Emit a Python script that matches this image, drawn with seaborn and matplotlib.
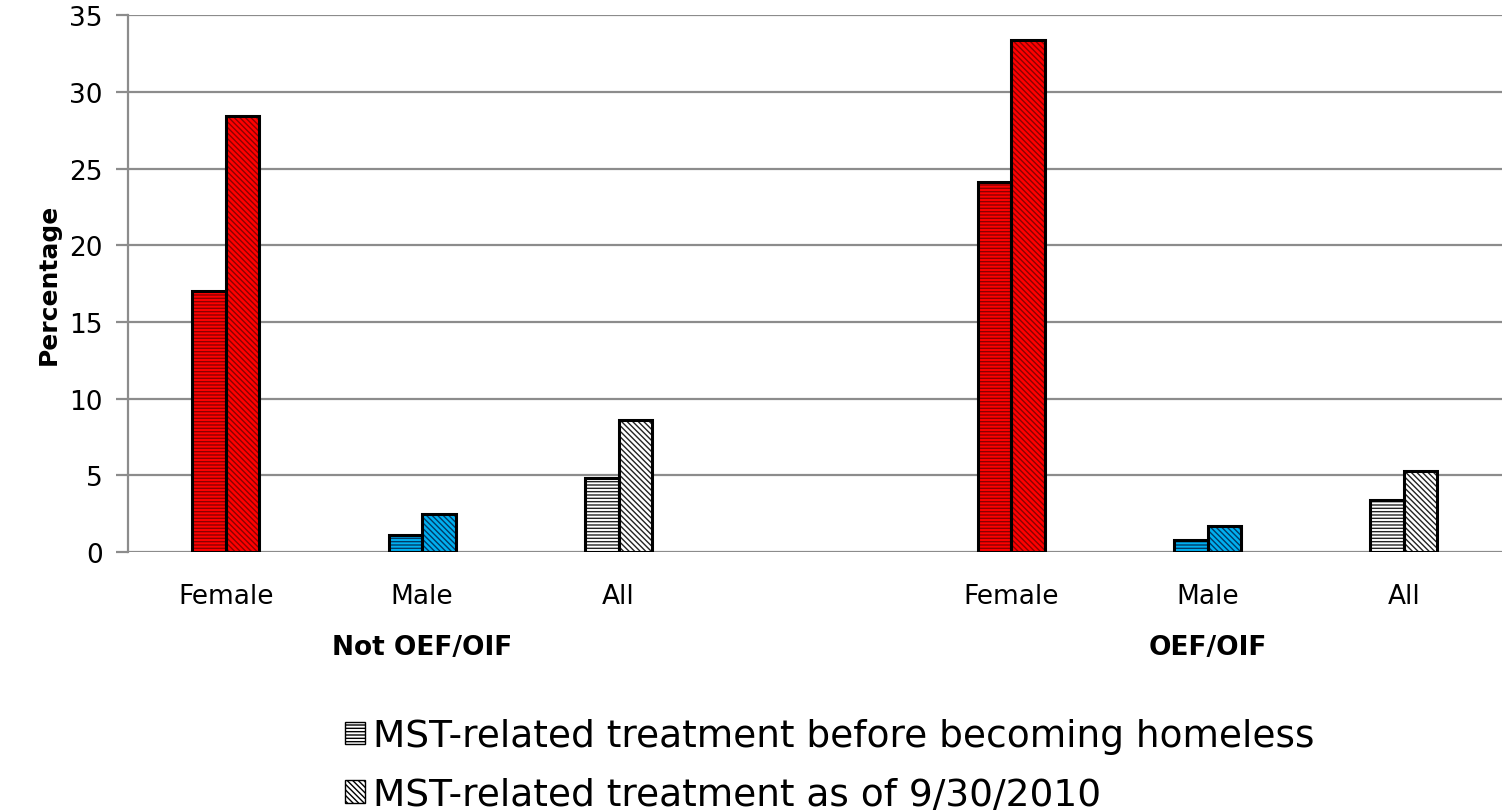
import matplotlib
matplotlib.use("Agg")
import matplotlib.pyplot as plt
import matplotlib.patches as mpatches
import seaborn as sns
import pandas as pd

# ---- data ----
slot_keys = ["NF_Female", "NF_Male", "NF_All", "gap", "OE_Female", "OE_Male", "OE_All"]
tick_labels = ["Female", "Male", "All", "", "Female", "Male", "All"]
group_labels = ["Not OEF/OIF", "OEF/OIF"]
series_names = ["MST-related treatment before becoming homeless",
                "MST-related treatment as of 9/30/2010"]
data_keys = ["NF_Female", "NF_Male", "NF_All", "OE_Female", "OE_Male", "OE_All"]
before_vals = [17.0, 1.1, 4.8, 24.1, 0.8, 3.4]
after_vals = [28.4, 2.5, 8.6, 33.4, 1.7, 5.3]
bar_colors = ["#FF0000", "#00B0F0", "#FFFFFF", "#FF0000", "#00B0F0", "#FFFFFF"]
hatch_colors = ["#8B0000", "#003A66", "#222222", "#8B0000", "#003A66", "#222222"]

df = pd.DataFrame({
    "slot": data_keys * 2,
    "series": [series_names[0]] * len(data_keys) + [series_names[1]] * len(data_keys),
    "value": before_vals + after_vals,
})

sns.set_theme(style="white")
plt.rcParams["font.family"] = ["DejaVu Sans"]
plt.rcParams["hatch.linewidth"] = 1.0
plt.rcParams["text.color"] = "black"
plt.rcParams["axes.labelcolor"] = "black"

fig = plt.figure(figsize=(15.02, 8.12), dpi=100)
ax = fig.add_axes([0.085, 0.319, 0.915, 0.661])

# filled + hatched layer
sns.barplot(data=df, x="slot", y="value", hue="series", order=slot_keys,
            hue_order=series_names, width=0.34, ax=ax, legend=False,
            linewidth=0, errorbar=None, saturation=1)
n = len(data_keys)
bars = [p for p in ax.patches]
hatches = ["-----", "\\\\\\\\\\\\"]
for si in range(2):
    for j in range(n):
        p = bars[si * n + j]
        p.set_facecolor(bar_colors[j])
        p.set_edgecolor(hatch_colors[j])
        p.set_hatch(hatches[si])
        p.set_linewidth(0)

# outline layer
sns.barplot(data=df, x="slot", y="value", hue="series", order=slot_keys,
            hue_order=series_names, width=0.34, ax=ax, legend=False,
            fill=False, linewidth=2.2, errorbar=None,
            palette=["black", "black"])
for p in ax.patches[2 * n:]:
    p.set_edgecolor("black")
    p.set_facecolor("none")

ax.set_xlim(-0.5, 6.5)
ax.set_ylim(0, 35)
ax.set_yticks(range(0, 36, 5))
ax.yaxis.grid(True, color="#8C8C8C", linewidth=1.6)
ax.set_axisbelow(True)
for s in ["top", "right", "bottom"]:
    ax.spines[s].set_visible(False)
ax.spines["left"].set_color("#8C8C8C")
ax.spines["left"].set_linewidth(1.6)
ax.tick_params(axis="y", which="both", left=True, length=9, width=1.6,
               color="#8C8C8C", labelsize=19, pad=9, labelcolor="black")
ax.tick_params(axis="x", bottom=False, labelsize=19, pad=16, labelcolor="black")
ax.set_xticks(range(len(slot_keys)))
ax.set_xticklabels(tick_labels)
ax.set_xlabel("")
ax.set_ylabel("Percentage", fontsize=18, fontweight="bold", labelpad=6,
              color="black")

# group labels
for gi, lbl in enumerate(group_labels):
    ax.text(1 + gi * 4, -6.2, lbl, ha="center", va="center", fontsize=19,
            fontweight="bold", color="black", transform=ax.transData)

handles = [mpatches.Patch(facecolor="white", edgecolor="black", hatch=h,
                          linewidth=1.0) for h in ["-----", "\\\\\\\\\\\\"]]
leg = fig.legend(handles, series_names, loc="center left",
                 bbox_to_anchor=(0.2295, 0.056), frameon=False, fontsize=27,
                 handlelength=0.55, handleheight=0.55, handletextpad=0.2,
                 labelspacing=0.6, borderaxespad=0, borderpad=0)
for t in leg.get_texts():
    t.set_color("black")

fig.savefig("out.png", dpi=100)
